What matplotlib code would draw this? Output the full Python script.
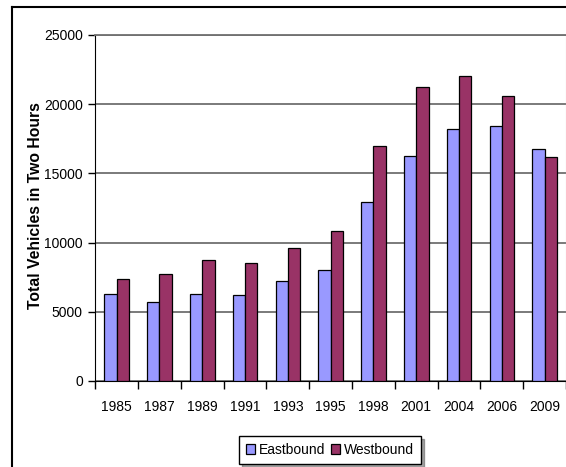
import matplotlib
matplotlib.use('Agg')
import matplotlib.pyplot as plt
import numpy as np
from matplotlib.lines import Line2D

plt.rcParams['font.family'] = ['Liberation Sans', 'DejaVu Sans']

# valors llegits del gràfic
years = ['1985', '1987', '1989', '1991', '1993', '1995', '1998', '2001', '2004', '2006', '2009']
eastbound = [6300, 5730, 6290, 6190, 7230, 8000, 12960, 16240, 18230, 18420, 16740]
westbound = [7350, 7710, 8740, 8550, 9590, 10820, 16950, 21220, 22010, 20610, 16160]
yticks = [0, 5000, 10000, 15000, 20000, 25000]

fig = plt.figure(figsize=(5.66, 4.67), dpi=100)
ax = fig.add_axes([95.3/566, 86/467, (566-95.3)/566, 346/467])

x = np.arange(len(years))
w = 0.2875
ax.bar(x - w/2, eastbound, w, color='#9999FF', edgecolor='black', linewidth=0.9,
       label='Eastbound', zorder=3)
ax.bar(x + w/2, westbound, w, color='#993366', edgecolor='black', linewidth=0.9,
       label='Westbound', zorder=3)

ax.set_xlim(-0.5, len(years) - 0.5)
ax.set_ylim(0, 25000)
ax.set_yticks(yticks)
ax.set_yticklabels([str(v) for v in yticks], fontsize=10)
ax.yaxis.grid(True, color='#707070', linewidth=1.3, zorder=0)

# ticks a les fronteres, etiquetes al centre
ax.set_xticks(np.arange(-0.5, len(years)), minor=False)
ax.set_xticklabels([])
ax.set_xticks(x, minor=True)
ax.set_xticklabels(years, minor=True, fontsize=10)
ax.tick_params(axis='x', which='major', direction='out', length=6, width=1, color='black')
ax.tick_params(axis='x', which='minor', length=0, pad=14)
ax.tick_params(axis='y', direction='out', length=5, width=1, pad=4)

ax.spines['left'].set_color('black')
ax.spines['bottom'].set_color('black')
ax.spines['top'].set_color('#707070')
ax.spines['top'].set_linewidth(1.3)
ax.spines['right'].set_color('#d0d0d0')

fig.text(36/566, 1 - 206/467, 'Total Vehicles in Two Hours', rotation=90,
         ha='center', va='center', fontsize=11.3, fontweight='bold')

leg = ax.legend(loc='center', bbox_to_anchor=(330/566, 1 - 450/467),
                bbox_transform=fig.transFigure, ncol=2, fontsize=10,
                frameon=True, fancybox=False, shadow=True, handlelength=0.65,
                handleheight=0.65, handletextpad=0.3, columnspacing=0.4,
                borderpad=0.5, borderaxespad=0)
leg.get_frame().set_edgecolor('black')
leg.get_frame().set_linewidth(1.0)

# marc exterior
fx = 12/566
fy = 1 - 7/467
fig.add_artist(Line2D([fx, fx], [0, fy], color='black', linewidth=1.5, transform=fig.transFigure))
fig.add_artist(Line2D([fx, 1], [fy, fy], color='black', linewidth=1.5, transform=fig.transFigure))

fig.savefig('out.png', dpi=100)
